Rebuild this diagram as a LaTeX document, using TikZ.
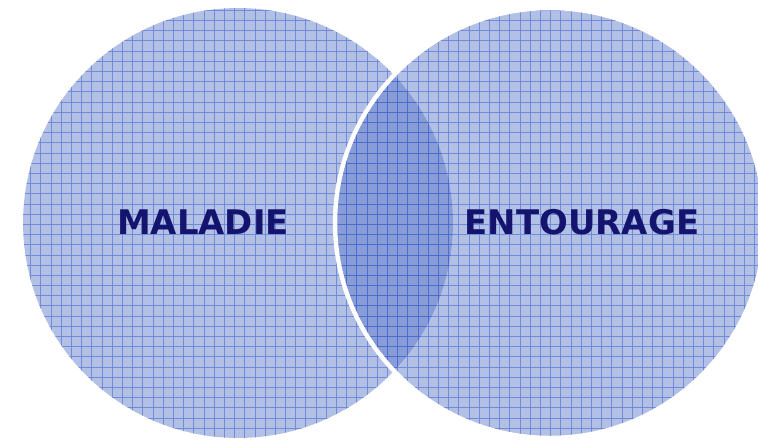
\documentclass[tikz,border=0pt]{standalone}
\usepackage{fontspec}
\setsansfont{DejaVu Sans}
\usepackage{tikz}
\definecolor{vennfill}{RGB}{75,105,195}
\definecolor{venngrid}{RGB}{60,95,205}
\definecolor{venntext}{RGB}{20,20,110}

\begin{document}
\begin{tikzpicture}[x=0.02cm,y=-0.02cm,
    every node/.style={font=\sffamily\bfseries\fontsize{19.3}{21}\selectfont,text=venntext},
    disc/.style={fill=vennfill,fill opacity=0.42},
    gridlines/.style={venngrid,line width=0.5pt,opacity=0.55,step=0.204cm}]
  \useasboundingbox (0,0) rectangle (758,440);
  \coordinate (cl) at (238,223);
  \coordinate (cr) at (550,223);
  % left disc
  \fill[disc] (cl) circle (4.3cm);
  \begin{scope}
    \clip (cl) circle (4.3cm);
    \draw[gridlines] (0,0) grid (758,440);
  \end{scope}
  % right disc, white rim over the left one
  \fill[disc] (cr) circle (4.3cm);
  \begin{scope}
    \clip (cr) circle (4.3cm);
    \draw[gridlines] (0,0) grid (758,440);
  \end{scope}
  \draw[white,line width=2.5pt] (cr) circle (4.3cm);
  \node (maladie) at (203,222) {MALADIE};
  \node (entourage) at (582,222) {ENTOURAGE};
\end{tikzpicture}
\end{document}
